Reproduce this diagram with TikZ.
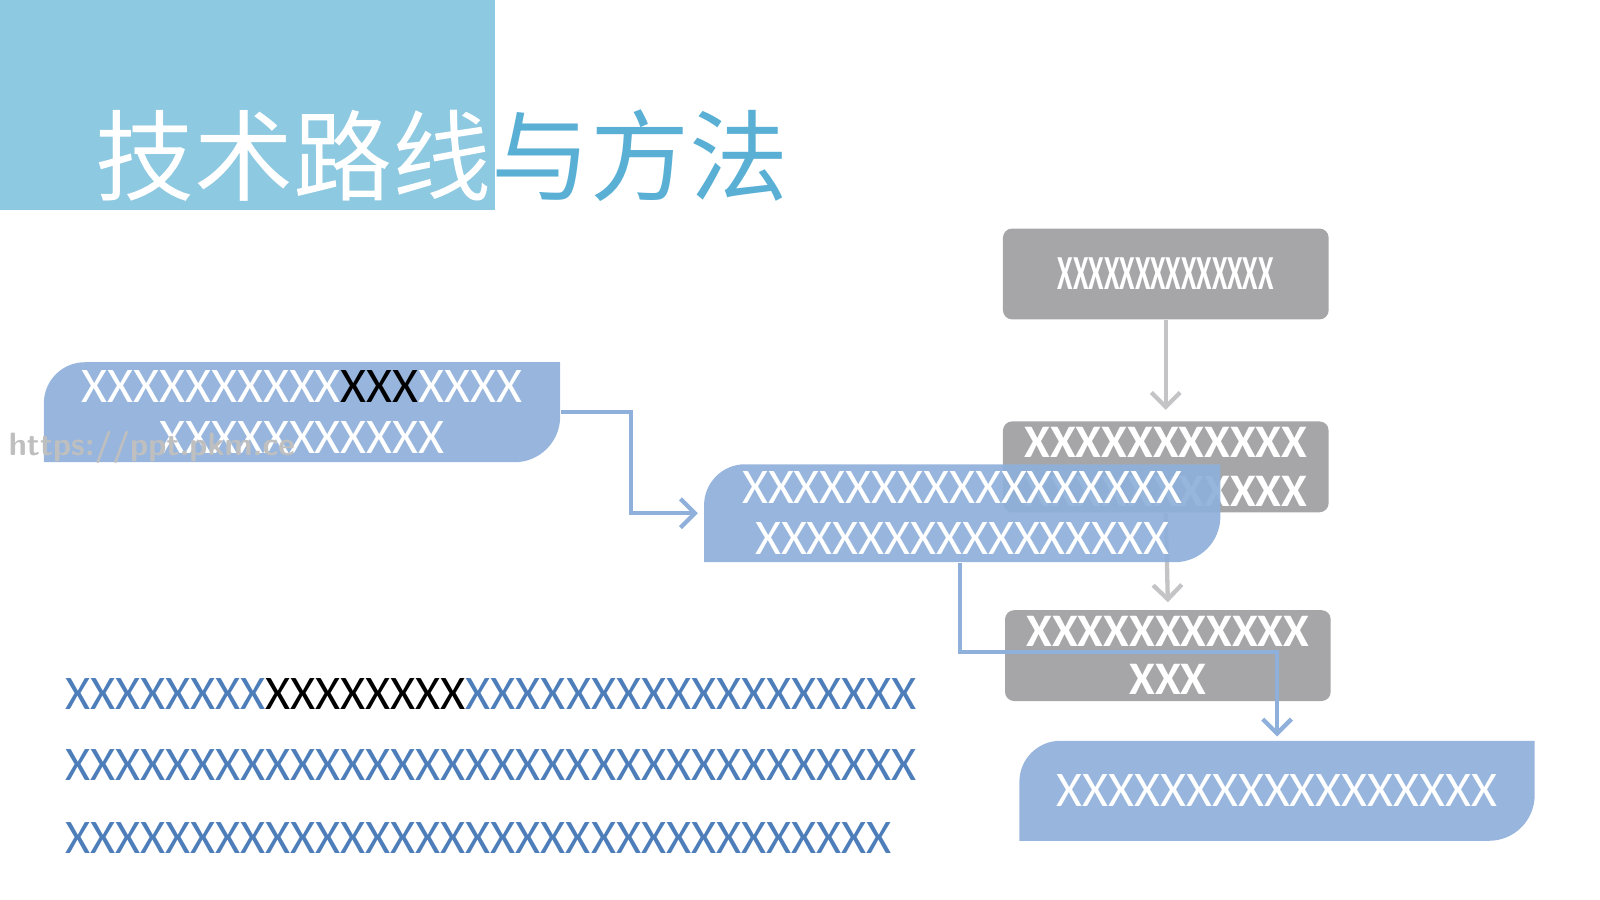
\documentclass[tikz,border=0pt]{standalone}
\usepackage{fontspec}
\setmainfont{Carlito}
\newfontfamily\cjk{Noto Sans CJK SC}
\usetikzlibrary{arrows.meta}
\definecolor{headblue}{HTML}{8DC9E1}
\definecolor{titleblue}{HTML}{5AAFD5}
\definecolor{boxgray}{HTML}{A6A6A8}
\definecolor{boxblue}{HTML}{8FB0DA}
\definecolor{textblue}{HTML}{4D7EBA}
\definecolor{arrowgray}{HTML}{C4C4C6}
\tikzset{
  graybox/.style={fill=boxgray, rounded corners=0.09cm, minimum width=3.19cm, minimum height=0.89cm,
    text=white, align=center, font=\fontsize{13}{13.4}\selectfont\bfseries, inner sep=0pt},
  boxlabel/.style={text=white, align=center, font=\fontsize{13.9}{14.2}\selectfont, inner sep=0pt},
  grayarrow/.style={draw=arrowgray, line width=1.2pt, -{Straight Barb[length=4pt,width=8pt]}},
  bluearrow/.style={draw=boxblue, line width=1.2pt, -{Straight Barb[length=4pt,width=8pt]}},
  bodytext/.style={anchor=base west, inner sep=0pt, text=textblue, font=\fontsize{13.45}{16}\selectfont}
}
% blue box with two rounded corners
\newcommand\bluebox[5]{%
  \fill[boxblue, opacity=0.92] (#2,#5) -- ({#2},{#3+40}) .. controls ({#2},{#3+18}) and ({#2+18},{#3}) .. ({#2+40},{#3})
    -- (#4,#3) -- ({#4},{#5-45}) .. controls ({#4},{#5-20}) and ({#4-20},{#5}) .. ({#4-45},{#5}) -- cycle;
  \node (#1) [minimum width={(#4-#2)*0.01cm}, minimum height={(#5-#3)*0.01cm}, inner sep=0pt]
    at ({(#2+#4)/2},{(#3+#5)/2}) {};}
\begin{document}
\begin{tikzpicture}[x=0.01cm, y=-0.01cm]
\useasboundingbox (0,0) rectangle (1568,882);
% header
\fill[headblue] (0,0) rectangle (485,206);
\node (title) [anchor=base west, inner sep=0pt, text=titleblue, font=\cjk\fontsize{27.6}{30}\selectfont] at (93,190) {技术路线与方法};
\begin{scope}
\clip (0,0) rectangle (485,206);
\node [anchor=base west, inner sep=0pt, text=white, font=\cjk\fontsize{27.6}{30}\selectfont] at (93,190) {技术路线与方法};
\end{scope}
% gray column
\node (g1) [graybox] at (1142.5,268.5) {\scalebox{0.6}[1.05]{XXXXXXXXXXXXXX}};
\node (g2) [graybox] at (1142.5,457.5) {XXXXXXXXXXX\\XXXXXXXXXXX};
\node (g3) [graybox] at (1144.5,642.5) {XXXXXXXXXXX\\XXX};
\draw[grayarrow] (g1.south) -- ([yshift=3pt]g2.north);
\draw[grayarrow] (g2.south) -- ([yshift=2pt]g3.north);
% blue boxes
\bluebox{lbox}{43}{355}{549}{453}
\node [boxlabel] at (lbox) {XXXXXXXXXX\textcolor{black}{XXX}XXXX\\XXXXXXXXXXX};
\node (mark) [anchor=base west, inner sep=0pt, text=black!25, font=\sffamily\bfseries\fontsize{9}{9}\selectfont] at (8,446) {https://ppt.pkm.ce};
\bluebox{mbox}{690}{455}{1196}{551}
\node [boxlabel] at (mbox) {XXXXXXXXXXXXXXXXX\\XXXXXXXXXXXXXXXX};
\bluebox{bbox}{999}{726}{1504}{824}
\node [boxlabel] at (bbox) {XXXXXXXXXXXXXXXXX};
% connectors
\draw[bluearrow, shorten >=1.5pt] (lbox.east) -- ++(69,0) |- (mbox.west);
\draw[bluearrow, shorten >=1pt] ([xshift=-0.6pt]mbox.south) -- ++(0,87) -| (bbox.north);
% body text
\node (t1) [bodytext] at (63,695) {XXXXXXXX\textcolor{black}{XXXXXXXX}XXXXXXXXXXXXXXXXXX};
\node (t2) [bodytext] at (63,765) {XXXXXXXXXXXXXXXXXXXXXXXXXXXXXXXXXX};
\node (t3) [bodytext] at (63,836) {XXXXXXXXXXXXXXXXXXXXXXXXXXXXXXXXX};
\end{tikzpicture}
\end{document}
